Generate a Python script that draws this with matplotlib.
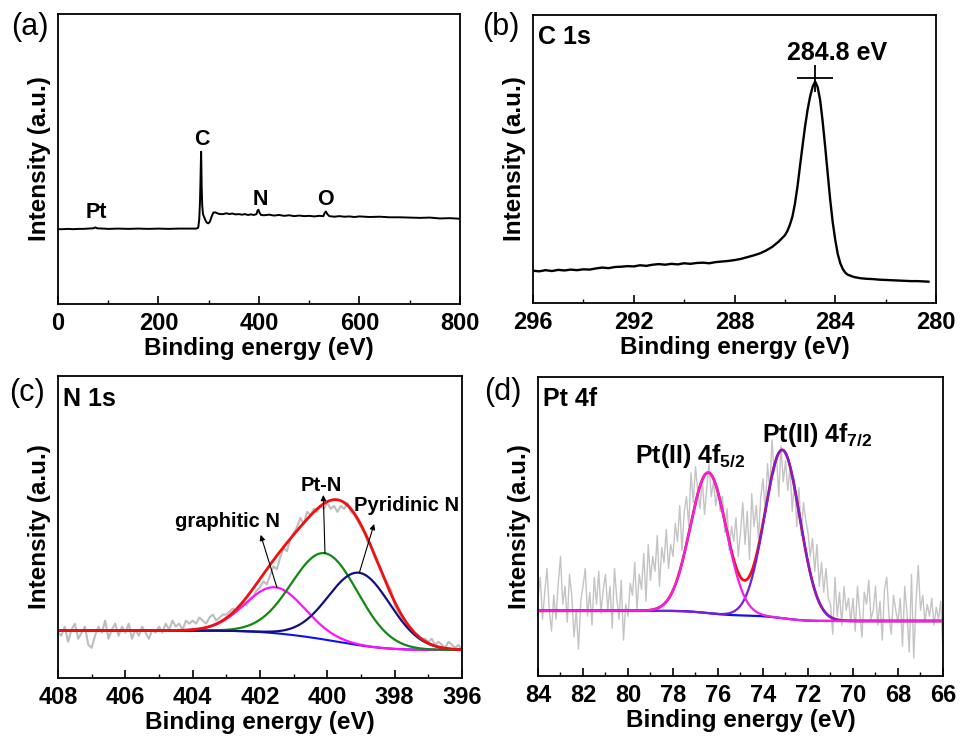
import math
import numpy as np
import matplotlib
matplotlib.use('Agg')
import matplotlib.pyplot as plt
from matplotlib.ticker import MultipleLocator

plt.rcParams['font.family'] = ['Liberation Sans', 'DejaVu Sans']
plt.rcParams['mathtext.fontset'] = 'custom'
plt.rcParams['mathtext.rm'] = 'Liberation Sans'
plt.rcParams['mathtext.bf'] = 'Liberation Sans:bold'

# ---------------- (a) survey ----------------
survey_energy = [0, 10, 20, 30, 40, 50, 60, 70, 74, 78, 90, 100, 120, 140, 160, 180, 200, 220, 240,
                 260, 275, 279, 281, 282.5, 283.5, 284.3, 284.8, 285.3, 286, 287, 288.5, 290.5, 293,
                 296, 299, 302, 305, 309, 313, 318, 323, 329, 335, 341, 347, 353, 360, 366, 372, 378,
                 384, 390, 395, 397, 399, 401, 404, 410, 420, 430, 440, 450, 460, 470, 480, 490, 500,
                 510, 520, 528, 531, 533, 536, 540, 550, 560, 570, 580, 590, 600, 620, 640, 660, 680,
                 700, 720, 740, 760, 780, 800]
survey_intensity = [25.8, 25.8, 25.9, 25.8, 25.9, 25.9, 26.0, 26.1, 26.4, 26.1, 26.0, 25.9, 26.0, 25.9,
                    26.0, 25.9, 26.0, 25.9, 26.0, 26.0, 26.0, 26.3, 29.0, 35.0, 42.0, 49.0, 52.5, 48.0,
                    40.0, 34.0, 31.0, 30.1, 29.0, 28.1, 27.8, 28.3, 29.8, 31.5, 31.6, 31.2, 31.0, 31.0,
                    31.3, 31.0, 31.2, 30.9, 31.0, 30.8, 31.0, 30.7, 30.9, 30.7, 31.0, 32.2, 32.5, 31.5,
                    30.7, 30.6, 30.8, 30.5, 30.7, 30.4, 30.6, 30.3, 30.5, 30.3, 30.4, 30.2, 30.4, 30.3,
                    31.5, 31.9, 31.0, 30.3, 30.1, 30.3, 30.1, 30.2, 30.0, 30.2, 30.0, 30.1, 29.9, 29.9,
                    29.8, 29.7, 29.8, 29.5, 29.6, 29.4]
survey_labels = ['Pt', 'C', 'N', 'O']
survey_label_x = [77, 286, 402, 533]
survey_label_y = [31.5, 56.6, 35.9, 36.2]

# ---------------- (b) C 1s ----------------
c1s_energy = [296.0, 295.75, 295.5, 295.25, 295.0, 294.75, 294.5, 294.25, 294.0, 293.75, 293.5, 293.25,
              293.0, 292.75, 292.5, 292.25, 292.0, 291.75, 291.5, 291.25, 291.0, 290.75, 290.5, 290.25,
              290.0, 289.75, 289.5, 289.25, 289.0, 288.75, 288.5, 288.25, 288.0, 287.75, 287.5, 287.25,
              287.0, 286.75, 286.5, 286.25, 286.0, 285.9, 285.8, 285.7, 285.6, 285.5, 285.4, 285.3,
              285.2, 285.1, 285.0, 284.9, 284.8, 284.7, 284.6, 284.5, 284.4, 284.3, 284.2, 284.1,
              284.0, 283.9, 283.8, 283.7, 283.6, 283.5, 283.25, 283.0, 282.75, 282.5, 282.25, 282.0,
              281.75, 281.5, 281.25, 281.0, 280.75, 280.5, 280.3]
c1s_intensity = [11.2, 11.0, 11.4, 11.1, 11.5, 11.3, 11.6, 11.4, 11.7, 11.6, 12.0, 12.3, 12.1, 12.5,
                 12.6, 12.8, 12.7, 13.1, 12.9, 13.3, 13.5, 13.3, 13.6, 13.4, 13.8, 13.6, 13.9, 14.0,
                 13.8, 14.2, 14.4, 14.6, 14.9, 15.3, 15.9, 16.5, 17.2, 18.2, 19.5, 21.3, 23.5, 25.0,
                 27.2, 30.0, 34.5, 40.4, 47.5, 54.5, 61.2, 67.0, 71.6, 75.0, 76.9, 75.0, 70.5, 63.0,
                 54.3, 45.0, 35.8, 28.0, 21.9, 17.0, 13.8, 11.8, 10.5, 9.8, 9.0, 8.6, 8.4, 8.3, 8.1,
                 8.0, 7.9, 7.8, 7.7, 7.6, 7.6, 7.5, 7.4]
c1s_peak_label = '284.8 eV'
c1s_peak_energy = 284.8

# ---------------- (c) N 1s ----------------
n1s_raw = [15, 14, 17, 12, 16, 18, 13, 15, 17, 11,
           10, 14, 17, 15, 19, 13, 16, 18, 14, 17,
           15, 18, 13, 16, 14, 17, 15, 13, 16, 15,
           17, 15, 18, 16, 19, 17, 18, 16, 19, 18,
           19, 18, 20, 19, 18, 20, 21, 19, 20, 21,
           21, 22, 23, 22, 24, 25, 24, 26, 27, 29,
           30, 32, 31, 34, 37, 36, 40, 43, 42, 46,
           48, 50, 53, 51, 55, 54, 56, 55, 57, 56,
           58, 56, 57, 55, 57, 56, 58, 55, 54, 52,
           50, 48, 45, 44, 40, 38, 36, 33, 31, 29,
           24, 22, 20, 19, 17, 16, 15, 14, 13, 13,
           12, 13, 11, 12, 11, 10, 12, 11, 10, 11,
           9]
n1s_names = ['graphitic N', 'Pt-N', 'Pyridinic N']
n1s_centers = [401.55, 400.07, 399.05]
n1s_heights = [15.2, 28.6, 24.0]
n1s_sigmas = [0.88, 0.98, 0.92]
n1s_bg_high = 15.7
n1s_bg_low = 9.3
n1s_colors = ['#FF10FF', '#108A10', '#101080']

# ---------------- (d) Pt 4f ----------------
pt4f_raw = [26, 33, 19, 28, 36, 22, 15, 27, 19, 31,
            40, 24, 30, 18, 34, 27, 13, 22, 9, 25,
            30, 36, 20, 28, 17, 33, 24, 35, 21, 29,
            34, 22, 30, 16, 36, 26, 19, 32, 12, 24,
            20, 31, 27, 38, 22, 34, 29, 41, 25, 44,
            32, 40, 35, 47, 30, 43, 38, 49, 36, 44,
            40, 51, 45, 57, 42, 55, 60, 50, 68, 58,
            70, 62, 56, 66, 54, 63, 71, 60, 65, 57,
            63, 55, 60, 48, 56, 42, 50, 45, 53, 40,
            48, 58, 44, 55, 39, 61, 50, 57, 46, 60,
            66, 55, 71, 62, 79, 68, 74, 60, 77, 65,
            72, 62, 70, 55, 66, 50, 63, 47, 58, 52,
            48, 40, 46, 35, 44, 30, 38, 28, 36, 26,
            24, 14, 33, 20, 28, 17, 30, 22, 26, 18,
            26, 15, 30, 21, 13, 28, 24, 32, 19, 22,
            30, 17, 25, 12, 29, 33, 20, 14, 27, 22,
            18, 26, 10, 30, 21, 8, 34, 6, 25, 37,
            22, 27, 18, 24, 20, 26, 17, 23, 19, 25,
            8]
pt4f_names = [r'Pt(II) 4f$_{\mathbf{5/2}}$', r'Pt(II) 4f$_{\mathbf{7/2}}$']
pt4f_centers = [76.43, 73.14]
pt4f_heights = [47.0, 56.3]
pt4f_sigmas = [0.8, 0.78]
pt4f_bg_high = 21.8
pt4f_bg_low = 18.4
pt4f_colors = ['#F020E8', '#7A1FD8']

erf = np.vectorize(math.erf)


def gauss(x, c, h, s):
    return h * np.exp(-(x - c) ** 2 / (2 * s ** 2))


def shirley(x, centers, heights, sigmas, low, high):
    cum = np.zeros_like(x)
    tot = 0.0
    for c, h, s in zip(centers, heights, sigmas):
        a = h * s
        cum += a * 0.5 * (1 + erf((x - c) / (s * math.sqrt(2))))
        tot += a
    return low + (high - low) * cum / tot


TICK_FS = 17
LAB_FS = 17.5


def style(ax, xlim, major, minor):
    ax.set_xlim(*xlim)
    ax.set_ylim(0, 100)
    ax.set_yticks([])
    ax.xaxis.set_major_locator(MultipleLocator(major))
    ax.xaxis.set_minor_locator(MultipleLocator(minor))
    ax.tick_params(axis='x', which='major', direction='in', length=5.5, width=1.2,
                   labelsize=TICK_FS, pad=6)
    ax.tick_params(axis='x', which='minor', direction='in', length=3, width=1.0)
    for lbl in ax.get_xticklabels():
        lbl.set_fontweight('bold')
    for sp in ax.spines.values():
        sp.set_linewidth(1.3)
    ax.set_xlabel('Binding energy (eV)', fontsize=LAB_FS, fontweight='bold', labelpad=1)
    ax.set_ylabel('Intensity (a.u.)', fontsize=LAB_FS, fontweight='bold', labelpad=5)


W, H = 962, 742
fig = plt.figure(figsize=(W / 100, H / 100), dpi=100)


def axes_px(l, r, t, b):
    return fig.add_axes([l / W, 1 - b / H, (r - l) / W, (b - t) / H])


axa = axes_px(58, 460, 14, 304)
axb = axes_px(533, 936, 15, 303)
axc = axes_px(58, 462, 376, 678)
axd = axes_px(538, 943, 377, 676)

# (a)
axa.plot(survey_energy, survey_intensity, color='black', lw=1.4)
for t, x, y in zip(survey_labels, survey_label_x, survey_label_y):
    axa.text(x, y, t, ha='center', va='center', fontsize=15.5, fontweight='bold')
style(axa, (0, 800), 200, 100)

# (b)
axb.plot(c1s_energy, c1s_intensity, color='black', lw=1.7)
pk = c1s_intensity[c1s_energy.index(c1s_peak_energy)]
axb.errorbar([c1s_peak_energy], [pk + 1.1], xerr=0.72, yerr=4.8, fmt='none', ecolor='black',
             elinewidth=1.3, capsize=0)
axb.text(283.92, 86.7, c1s_peak_label, ha='center', va='center', fontsize=18, fontweight='bold')
axb.text(0.012, 0.965, 'C 1s', transform=axb.transAxes, ha='left', va='top', fontsize=18,
         fontweight='bold')
style(axb, (296, 280), 4, 2)

# (c)
xc = np.linspace(408, 396, len(n1s_raw))
axc.plot(xc, n1s_raw, color='#BDBDBD', lw=1.5)
fx = np.linspace(408, 396, 800)
bgc = shirley(fx, n1s_centers, n1s_heights, n1s_sigmas, n1s_bg_low, n1s_bg_high)
axc.plot(fx, bgc, color='#1010F0', lw=1.5)
env = bgc.copy()
for c, h, s, col in zip(n1s_centers, n1s_heights, n1s_sigmas, n1s_colors):
    g = gauss(fx, c, h, s)
    env += g
    axc.plot(fx, bgc + g, color=col, lw=1.6)
axc.plot(fx, env, color='#F01010', lw=2.0)
# arrows & labels
lbl_pos = [(402.98, 51.7), (400.17, 63.6), (397.64, 57.0)]
arrow_head = [(401.98, 47.4), (400.12, 60.6), (398.61, 51.0)]
for name, c, h, s, (tx, ty), (hx, hy) in zip(n1s_names, n1s_centers, n1s_heights, n1s_sigmas,
                                             lbl_pos, arrow_head):
    base = shirley(np.array([c]), n1s_centers, n1s_heights, n1s_sigmas, n1s_bg_low, n1s_bg_high)[0]
    axc.annotate('', xy=(hx, hy), xytext=(c - 0.05 if name == 'graphitic N' else c, base + h),
                 arrowprops=dict(arrowstyle='-|>', lw=0.8, color='black', mutation_scale=8,
                                 shrinkA=0, shrinkB=0))
    axc.text(tx, ty, name, ha='center', va='center', fontsize=14.5, fontweight='bold')
axc.text(0.012, 0.965, 'N 1s', transform=axc.transAxes, ha='left', va='top', fontsize=18,
         fontweight='bold')
style(axc, (408, 396), 2, 1)

# (d)
xd = np.linspace(84, 66, len(pt4f_raw))
axd.plot(xd, pt4f_raw, color='#C4C4C4', lw=1.0)
fxd = np.linspace(84, 66, 800)
bgd = shirley(fxd, pt4f_centers, pt4f_heights, pt4f_sigmas, pt4f_bg_low, pt4f_bg_high)
envd = bgd + sum(gauss(fxd, c, h, s) for c, h, s in zip(pt4f_centers, pt4f_heights, pt4f_sigmas))
axd.plot(fxd, envd, color='#F01010', lw=2.0)
axd.plot(fxd, bgd, color='#1010F0', lw=1.6)
order = [1, 0]
for i in order:
    axd.plot(fxd, bgd + gauss(fxd, pt4f_centers[i], pt4f_heights[i], pt4f_sigmas[i]),
             color=pt4f_colors[i], lw=1.6)
axd.text(79.7, 71.2, pt4f_names[0], ha='left', va='baseline', fontsize=18, fontweight='bold')
axd.text(74.05, 78.4, pt4f_names[1], ha='left', va='baseline', fontsize=18, fontweight='bold')
axd.text(0.012, 0.965, 'Pt 4f', transform=axd.transAxes, ha='left', va='top', fontsize=18,
         fontweight='bold')
style(axd, (84, 66), 2, 1)

# panel letters
for t, x, y in [('(a)', 11, 27), ('(b)', 482, 27), ('(c)', 9, 393), ('(d)', 484, 392)]:
    fig.text(x / W, 1 - y / H, t, ha='left', va='center', fontsize=22)

fig.savefig('out.png', dpi=100)
